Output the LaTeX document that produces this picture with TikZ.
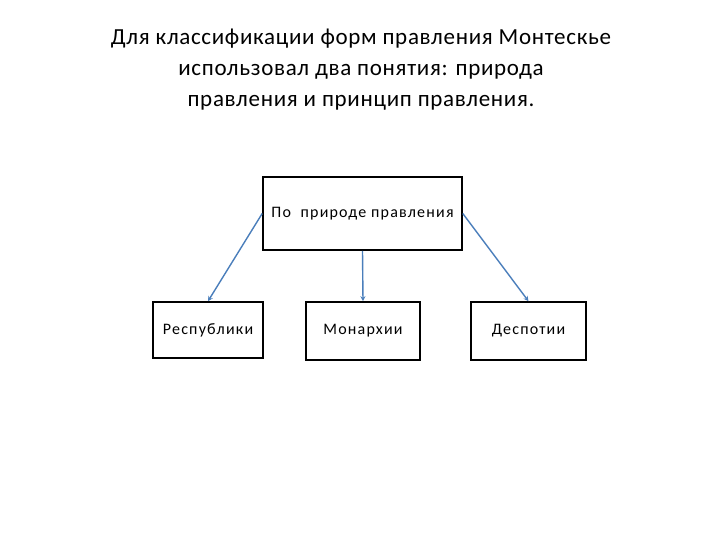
\documentclass[tikz,border=0pt]{standalone}
\usepackage{fontspec}
\setmainfont{Carlito}
\usepackage{xcolor}
\usepackage{tikz}
\usetikzlibrary{arrows.meta}
\definecolor{linkblue}{HTML}{4A7EBB}
\newfontfamily\boxfont[LetterSpace=7.5]{Carlito}
\newfontfamily\titlefont[LetterSpace=3]{Carlito}
\tikzset{
  mBox/.style={draw=black,line width=1.6pt,align=center,inner sep=2pt,
        font=\boxfont\fontsize{16}{18}\selectfont},
  mArrow/.style={draw=linkblue,line width=1.4pt,
        -{Stealth[length=5pt,width=5pt]}},
  mTitle/.style={font=\titlefont\fontsize{23}{31}\selectfont,align=center},
}

\begin{document}
\begin{tikzpicture}[x=1pt,y=-1pt]
\useasboundingbox (0,0) rectangle (720,540);
\node[mTitle] (title) at (361,70) {Для классификации форм правления Монтескье\\
  использовал два понятия: природа\\правления и принцип правления.};
\node[mBox,minimum width=199pt,minimum height=73pt] (nature) at (362.5,213.5) {По\ \ природе правления};
\node[mBox,minimum width=110pt,minimum height=56pt] (rep) at (208,330) {Республики};
\node[mBox,minimum width=114pt,minimum height=58pt] (mon) at (363,331) {Монархии};
\node[mBox,minimum width=115pt,minimum height=58pt] (desp) at (528.5,331) {Деспотии};
\draw[mArrow] (nature.west) -- (rep.north);
\draw[mArrow] (nature.south) -- (mon.north);
\draw[mArrow] (nature.east) -- (desp.north);
\end{tikzpicture}
\end{document}
